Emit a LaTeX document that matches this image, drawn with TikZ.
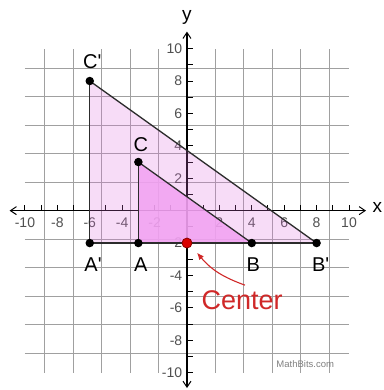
\documentclass[tikz,border=0pt]{standalone}
\usepackage{fontspec}
\setmainfont{Liberation Sans}
\usetikzlibrary{arrows.meta}
\definecolor{gridc}{HTML}{A0A0A0}
\definecolor{bigfill}{HTML}{E070E0}
\definecolor{smallfill}{HTML}{F2A2F2}
\definecolor{edgec}{HTML}{2C2C2C}
\definecolor{ticklab}{HTML}{505050}
\definecolor{ctrred}{HTML}{D02828}
\tikzset{
  gridline/.style={gridc, line width=0.8pt},
  axisline/.style={black, line width=1.3pt, -{Straight Barb[length=6pt,width=8pt,line width=1pt]}},
  tickmark/.style={black, line width=1pt},
  ticklabel/.style={ticklab, font=\fontsize{14}{16}\selectfont, inner sep=1pt},
  edge/.style={edgec, line width=1.3pt},
  baseedge/.style={edgec, line width=2.2pt},
  dot/.style={circle, fill=black, inner sep=0pt, minimum size=8.5pt},
  cdot/.style={circle, fill=red!85!black, draw=red!55!black, line width=0.8pt, inner sep=0pt, minimum size=10pt},
  ptlabel/.style={font=\fontsize{20}{22}\selectfont, text=black, inner sep=0pt},
  axislabel/.style={font=\fontsize{19}{21}\selectfont, inner sep=0pt},
  ctrlabel/.style={font=\fontsize{27}{30}\selectfont, text=ctrred, inner sep=0pt},
  ctrarrow/.style={ctrred, line width=1.1pt, -{Latex[length=7pt,width=6pt]}},
  wm/.style={font=\fontsize{9.5}{11}\selectfont, text=gray, inner sep=0pt}
}
\begin{document}
\begin{tikzpicture}[x=16.2pt,y=16.2pt]
\useasboundingbox[fill=white] (-11.54,-11.07) rectangle (12.10,13.0);
% grid
\draw[gridline] (-10,-10) grid (10,10);
% axes
\draw[axisline] (0,0) -- (11.05,0);
\draw[axisline] (0,0) -- (-10.95,0);
\draw[axisline] (0,0) -- (0,11.05);
\draw[axisline] (0,0) -- (0,-10.95);
\foreach \i in {-10,...,10} {
  \draw[tickmark] (\i,0) -- (\i,0.35);
  \draw[tickmark] (0,\i) -- (0.35,\i);
}
\foreach \i in {-10,-8,-6,-4,-2,2,4,6,8,10} {
  \node[ticklabel] (xl\i) at (\i,-0.72) {\i};
  \node[ticklabel, anchor=east] (yl\i) at (-0.22,\i) {\i};
}
\node[axislabel] (xlab) at (11.75,0.2) {x};
\node[axislabel] (ylab) at (0,11.95) {y};
% points
\coordinate (pA) at (-3,-2);
\coordinate (pB) at (4,-2);
\coordinate (pC) at (-3,3);
\coordinate (pAp) at (-6,-2);
\coordinate (pBp) at (8,-2);
\coordinate (pCp) at (-6,8);
\coordinate (pO) at (0,-2);
% fills
\fill[bigfill, opacity=0.24] (pAp) -- (pBp) -- (pCp) -- cycle;
\fill[smallfill, opacity=0.88] (pA) -- (pB) -- (pC) -- cycle;
% outlines
\draw[edge] (pCp) -- (pBp);
\draw[edge] (pCp) -- (pAp);
\draw[edge] (pC) -- (pB);
\draw[edge] (pC) -- (pA);
\draw[baseedge] (pAp) -- (pBp);
% dots
\node[dot] (A) at (pA) {};
\node[dot] (B) at (pB) {};
\node[dot] (C) at (pC) {};
\node[dot] (Ap) at (pAp) {};
\node[dot] (Bp) at (pBp) {};
\node[dot] (Cp) at (pCp) {};
\node[cdot] (O) at (pO) {};
% labels
\node[ptlabel] (lCp) at (-5.85,9.2) {C\textquotesingle};
\node[ptlabel] (lC) at (-2.85,4.05) {C};
\node[ptlabel] (lAp) at (-5.8,-3.35) {A\textquotesingle};
\node[ptlabel] (lA) at (-2.85,-3.35) {A};
\node[ptlabel] (lB) at (4.1,-3.35) {B};
\node[ptlabel] (lBp) at (8.25,-3.35) {B\textquotesingle};
% center
\node[ctrlabel] (ctr) at (3.4,-5.5) {Center};
\coordinate (as) at (3.58,-4.6);
\coordinate (ae) at (0.62,-2.6);
\draw[ctrarrow] (as) to[out=160,in=-50] (ae);
% watermark
\node[wm] (wmk) at (7.3,-9.47) {MathBits.com};
\end{tikzpicture}
\end{document}
